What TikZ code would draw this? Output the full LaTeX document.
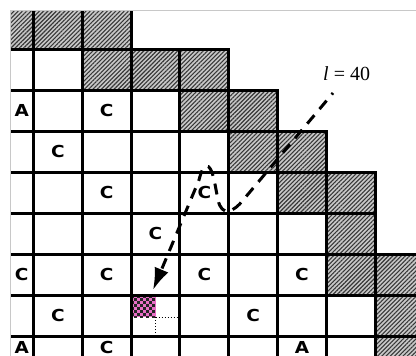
\documentclass[tikz,border=0pt]{standalone}
\usepackage{fontspec}
\setmainfont{Liberation Serif}
\newfontfamily\cellfont[FakeStretch=1.12]{DejaVu Sans}
\usetikzlibrary{patterns.meta,arrows.meta}
\definecolor{hatchbg}{RGB}{200,200,200}
\definecolor{hatchfg}{RGB}{55,55,55}
\definecolor{framegray}{RGB}{200,200,200}
\definecolor{pinkc}{RGB}{234,110,200}
\tikzset{
  hatch/.style={preaction={fill=hatchbg},pattern={Lines[angle=45,distance=3pt,line width=1.1pt]},pattern color=hatchfg},
  gridline/.style={line width=3pt,black,line cap=rect},
  letter/.style={font=\cellfont\bfseries\fontsize{16.5}{17}\selectfont,anchor=base,inner sep=0pt},
  dasharrow/.style={line width=3pt,dash pattern=on 11pt off 8pt,dash phase=9pt,-{Latex[length=22pt,width=15pt]}},
  dotline/.style={line width=1pt,dash pattern=on 1pt off 2pt}
}
\begin{document}
\begin{tikzpicture}[x=1pt,y=-1pt]
\useasboundingbox (0,0) rectangle (416,356);
\begin{scope}
\clip (10,10) rectangle (416,356);
% hatched cells
\path[hatch] (-16,8) rectangle (131.1,49);
\path[hatch] (82.3,49) rectangle (228.7,90);
\path[hatch] (179.9,90) rectangle (277.5,131);
\path[hatch] (228.7,131) rectangle (326.3,172);
\path[hatch] (277.5,172) rectangle (375.1,213);
\path[hatch] (326.3,213) rectangle (375.1,254);
\path[hatch] (326.3,254) rectangle (430,295);
\path[hatch] (375.1,295) rectangle (430,336);
\path[hatch] (375.1,336) rectangle (430,380);
% pink checkered cell
\fill[pinkc] (131.1,295) rectangle (155.5,317);
\begin{scope}
\clip (131.1,295) rectangle (155.5,317);
\foreach \i in {0,2,4,6}{
  \foreach \j in {0,2,4,6}{
    \fill[black!85] ({131.1+3*\i},{295+3*\j}) rectangle +(3,3);
    \fill[black!85] ({134.1+3*\i},{298+3*\j}) rectangle +(3,3);
  }
}
\end{scope}
\draw[dotline] (155.5,317) -- (179.9,317);
\draw[dotline] (155.5,317) -- (155.5,336);
% grid lines
\draw[gridline] (33.5,5) -- (33.5,380);
\draw[gridline] (82.3,5) -- (82.3,380);
\draw[gridline] (131.1,5) -- (131.1,380);
\draw[gridline] (-20,49) -- (228.7,49) -- (228.7,380);
\draw[gridline] (179.9,49) -- (179.9,380);
\draw[gridline] (-20,90) -- (277.5,90) -- (277.5,380);
\draw[gridline] (-20,131) -- (326.3,131) -- (326.3,380);
\draw[gridline] (-20,172) -- (375.1,172) -- (375.1,380);
\draw[gridline] (-20,213) -- (375.1,213);
\draw[gridline] (-20,254) -- (430,254);
\draw[gridline] (-20,295) -- (430,295);
\draw[gridline] (-20,336) -- (430,336);
\end{scope}
\draw[framegray,line width=1pt] (10,356) -- (10,10) -- (416,10);
% letters
\node[letter] (a1) at (21.75,116.5) {A};
\node[letter] (c1) at (106.7,116.5) {C};
\node[letter] (c2) at (58,157.5) {C};
\node[letter] (c3) at (106.7,198.5) {C};
\node[letter] (c4) at (204.3,198.5) {C};
\node[letter] (c5) at (155.5,239.5) {C};
\node[letter] (c6) at (21.75,280.5) {C};
\node[letter] (c7) at (106.7,280.5) {C};
\node[letter] (c8) at (204.3,280.5) {C};
\node[letter] (c9) at (301.9,280.5) {C};
\node[letter] (c10) at (58,321.5) {C};
\node[letter] (c11) at (253.1,321.5) {C};
\node[letter] (a2) at (21.75,353) {A};
\node[letter] (c12) at (106.7,353) {C};
\node[letter] (a3) at (301.9,353) {A};
% label and arrow
\node[font=\fontsize{20}{20}\selectfont,anchor=base west,inner sep=0pt] (lbl) at (323,80) {\textit{l} = 40};
\coordinate (s) at (333,93);
\coordinate (t) at (153,290);
\draw[dasharrow] (s) -- (244,199) .. controls (233,213) and (222,217) .. (218,200) .. controls (215,186) and (213,165) .. (206,166) .. controls (203,167) and (201,172) .. (199,180) -- (t);
\end{tikzpicture}
\end{document}
